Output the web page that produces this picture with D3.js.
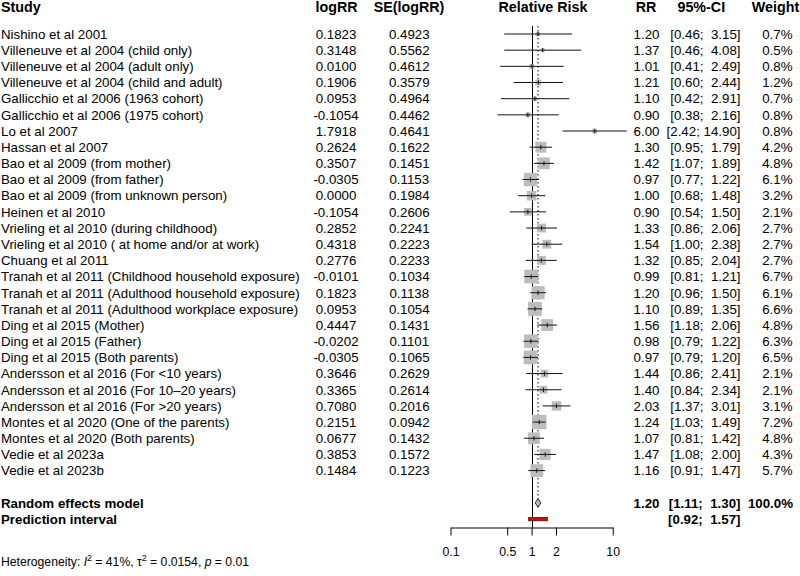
<!DOCTYPE html>
<html>
<head>
<meta charset="utf-8">
<script src="https://cdn.jsdelivr.net/npm/d3@7"></script>
<style>
  html, body { margin: 0; padding: 0; background: #fff; }
  svg { display: block; }
  text { font-family: "Liberation Sans", Arial, sans-serif; fill: #000; white-space: pre; }
</style>
</head>
<body>
<svg id="chart" width="800" height="576"></svg>
<script>
// ---------------- data ----------------
const studies = [
  "Nishino et al 2001",
  "Villeneuve et al 2004 (child only)",
  "Villeneuve et al 2004 (adult only)",
  "Villeneuve et al 2004 (child and adult)",
  "Gallicchio et al 2006 (1963 cohort)",
  "Gallicchio et al 2006 (1975 cohort)",
  "Lo et al 2007",
  "Hassan et al 2007",
  "Bao et al 2009 (from mother)",
  "Bao et al 2009 (from father)",
  "Bao et al 2009 (from unknown person)",
  "Heinen et al 2010",
  "Vrieling et al 2010 (during childhood)",
  "Vrieling et al 2010 ( at home and/or at work)",
  "Chuang et al 2011",
  "Tranah et al 2011 (Childhood household exposure)",
  "Tranah et al 2011 (Adulthood household exposure)",
  "Tranah et al 2011 (Adulthood workplace exposure)",
  "Ding et al 2015 (Mother)",
  "Ding et al 2015 (Father)",
  "Ding et al 2015 (Both parents)",
  "Andersson et al 2016 (For <10 years)",
  "Andersson et al 2016 (For 10–20 years)",
  "Andersson et al 2016 (For >20 years)",
  "Montes et al 2020 (One of the parents)",
  "Montes et al 2020 (Both parents)",
  "Vedie et al 2023a",
  "Vedie et al 2023b"
];
const logRR = ["0.1823","0.3148","0.0100","0.1906","0.0953","-0.1054","1.7918","0.2624","0.3507","-0.0305",
  "0.0000","-0.1054","0.2852","0.4318","0.2776","-0.0101","0.1823","0.0953","0.4447","-0.0202",
  "-0.0305","0.3646","0.3365","0.7080","0.2151","0.0677","0.3853","0.1484"];
const seLogRR = ["0.4923","0.5562","0.4612","0.3579","0.4964","0.4462","0.4641","0.1622","0.1451","0.1153",
  "0.1984","0.2606","0.2241","0.2223","0.2233","0.1034","0.1138","0.1054","0.1431","0.1101",
  "0.1065","0.2629","0.2614","0.2016","0.0942","0.1432","0.1572","0.1223"];
const rr     = [1.20,1.37,1.01,1.21,1.10,0.90,6.00,1.30,1.42,0.97,1.00,0.90,1.33,1.54,1.32,0.99,1.20,1.10,1.56,0.98,0.97,1.44,1.40,2.03,1.24,1.07,1.47,1.16];
const ciLow  = [0.46,0.46,0.41,0.60,0.42,0.38,2.42,0.95,1.07,0.77,0.68,0.54,0.86,1.00,0.85,0.81,0.96,0.89,1.18,0.79,0.79,0.86,0.84,1.37,1.03,0.81,1.08,0.91];
const ciHigh = [3.15,4.08,2.49,2.44,2.91,2.16,14.90,1.79,1.89,1.22,1.48,1.50,2.06,2.38,2.04,1.21,1.50,1.35,2.06,1.22,1.20,2.41,2.34,3.01,1.49,1.42,2.00,1.47];
const weight = [0.7,0.5,0.8,1.2,0.7,0.8,0.8,4.2,4.8,6.1,3.2,2.1,2.7,2.7,2.7,6.7,6.1,6.6,4.8,6.3,6.5,2.1,2.1,3.1,7.2,4.8,4.3,5.7];

const pooled = { rr: 1.20, low: 1.11, high: 1.30, weight: "100.0%" };
const predInt = { low: 0.92, high: 1.57 };
const tickValues = [0.1, 0.5, 1, 2, 10];
const tickLabels = ["0.1", "0.5", "1", "2", "10"];
const headers = ["Study", "logRR", "SE(logRR)", "Relative Risk", "RR", "95%-CI", "Weight"];

// ---------------- layout ----------------
const svg = d3.select("#chart");
const FS = 13.3, FSH = 14.3;
const rowY = d3.scaleLinear().domain([0, 1]).range([34, 34 + 16.17]);
const x = d3.scaleLog().domain([0.1, 10]).range([450.5, 612.7]);
const box = d3.scaleSqrt().domain([0, 7.2]).range([0, 14.4]);
const fmt2 = d3.format(".2f");
const fmtCI = (lo, hi) => {
  const a = fmt2(lo), b = fmt2(hi);
  return "[" + a + ";" + " ".repeat(Math.max(1, 6 - b.length)) + b + "]";
};

const col = { study: 1, logRR: 336, se: 409.3, rrR: 659.5, ciR: 740.5, wR: 792.5 };
const hdr = { study: 1, logRR: 336.5, se: 409, forest: 543, rr: 646, ci: 701.3, w: 775.5 };

// headers
const hY = 12;
const hg = svg.append("g").attr("font-weight", "bold").attr("font-size", FSH);
hg.append("text").attr("x", hdr.study).attr("y", hY).text(headers[0]);
hg.append("text").attr("x", hdr.logRR).attr("y", hY).attr("text-anchor", "middle").text(headers[1]);
hg.append("text").attr("x", hdr.se).attr("y", hY).attr("text-anchor", "middle").text(headers[2]);
hg.append("text").attr("x", hdr.forest).attr("y", hY).attr("text-anchor", "middle").text(headers[3]);
hg.append("text").attr("x", hdr.rr).attr("y", hY).attr("text-anchor", "middle").text(headers[4]);
hg.append("text").attr("x", hdr.ci).attr("y", hY).attr("text-anchor", "middle").text(headers[5]);
hg.append("text").attr("x", hdr.w).attr("y", hY).attr("text-anchor", "middle").text(headers[6]);

// study rows text
const rows = svg.append("g").attr("font-size", FS);
const idx = d3.range(studies.length);
const row = rows.selectAll("g.row").data(idx).join("g").attr("class", "row")
  .attr("transform", i => `translate(0,${rowY(i)})`);
row.append("text").attr("x", col.study).attr("dy", "0.36em").text(i => studies[i]);
row.append("text").attr("x", col.logRR).attr("dy", "0.36em").attr("text-anchor", "middle").text(i => logRR[i]);
row.append("text").attr("x", col.se).attr("dy", "0.36em").attr("text-anchor", "middle").text(i => seLogRR[i]);
row.append("text").attr("x", col.rrR).attr("dy", "0.36em").attr("text-anchor", "end").text(i => fmt2(rr[i]));
row.append("text").attr("x", col.ciR).attr("dy", "0.36em").attr("text-anchor", "end").text(i => fmtCI(ciLow[i], ciHigh[i]));
row.append("text").attr("x", col.wR).attr("dy", "0.36em").attr("text-anchor", "end").text(i => weight[i].toFixed(1) + "%");

// summary rows
const reY = rowY(29), piY = rowY(30);
const sg = svg.append("g").attr("font-size", FS).attr("font-weight", "bold");
sg.append("text").attr("x", col.study).attr("y", reY).attr("dy", "0.36em").text("Random effects model");
sg.append("text").attr("x", col.study).attr("y", piY).attr("dy", "0.36em").text("Prediction interval");
sg.append("text").attr("x", col.rrR).attr("y", reY).attr("dy", "0.36em").attr("text-anchor", "end").text(fmt2(pooled.rr));
sg.append("text").attr("x", col.ciR).attr("y", reY).attr("dy", "0.36em").attr("text-anchor", "end").text(fmtCI(pooled.low, pooled.high));
sg.append("text").attr("x", col.wR + 0.5).attr("y", reY).attr("dy", "0.36em").attr("text-anchor", "end").text(pooled.weight);
sg.append("text").attr("x", col.ciR).attr("y", piY).attr("dy", "0.36em").attr("text-anchor", "end").text(fmtCI(predInt.low, predInt.high));

// forest plot
const fg = svg.append("g");
const topY = 26, axisY = 527.5;
// reference line at 1
fg.append("line").attr("x1", Math.round(x(1)) + 0.5).attr("x2", Math.round(x(1)) + 0.5)
  .attr("y1", topY).attr("y2", axisY).attr("stroke", "#000").attr("stroke-width", 1);
// dotted pooled line
fg.append("line").attr("x1", x(pooled.rr)).attr("x2", x(pooled.rr))
  .attr("y1", topY).attr("y2", reY - 4.5).attr("stroke", "#000").attr("stroke-width", 1)
  .attr("stroke-dasharray", "1.5,2.5");

// squares
fg.selectAll("rect.sq").data(idx).join("rect").attr("class", "sq")
  .attr("x", i => x(rr[i]) - box(weight[i]) / 2)
  .attr("y", i => rowY(i) - box(weight[i]) / 2)
  .attr("width", i => box(weight[i])).attr("height", i => box(weight[i]))
  .attr("fill", "#bdbdbd");
// CI lines
fg.selectAll("line.ci").data(idx).join("line").attr("class", "ci")
  .attr("x1", i => x(ciLow[i])).attr("x2", i => x(ciHigh[i]))
  .attr("y1", i => rowY(i)).attr("y2", i => rowY(i))
  .attr("stroke", "#111").attr("stroke-width", 1);
// estimate ticks
fg.selectAll("line.est").data(idx).join("line").attr("class", "est")
  .attr("x1", i => x(rr[i])).attr("x2", i => x(rr[i]))
  .attr("y1", i => rowY(i) - 2.2).attr("y2", i => rowY(i) + 2.2)
  .attr("stroke", "#111").attr("stroke-width", 1);

// diamond
const dh = 4.5;
fg.append("path")
  .attr("d", `M${x(pooled.low)},${reY} L${x(pooled.rr)},${reY - dh} L${x(pooled.high)},${reY} L${x(pooled.rr)},${reY + dh} Z`)
  .attr("fill", "#bdbdbd").attr("stroke", "#000").attr("stroke-width", 0.8);

// prediction interval
fg.append("rect").attr("x", x(predInt.low)).attr("y", piY - 1.7)
  .attr("width", x(predInt.high) - x(predInt.low)).attr("height", 3.4)
  .attr("fill", "#e00000").attr("stroke", "#222").attr("stroke-width", 0.8);

// axis
const axis = d3.axisBottom(x).tickValues(tickValues)
  .tickFormat((d, i) => tickLabels[i]).tickSize(8).tickSizeOuter(0).tickPadding(12);
const ag = svg.append("g").attr("transform", `translate(0,${axisY})`).call(axis);
ag.selectAll("text").attr("font-size", 12.3).attr("font-family", "Liberation Sans, Arial, sans-serif");
ag.select(".domain").attr("stroke", "#000");
ag.selectAll(".tick line").attr("stroke", "#000");

// heterogeneity
const ht = svg.append("text").attr("x", 1).attr("y", 565.5).attr("font-size", 12.2);
ht.append("tspan").text("Heterogeneity: ");
ht.append("tspan").attr("font-style", "italic").text("I");
ht.append("tspan").attr("dy", -5).attr("font-size", 8.8).text("2");
ht.append("tspan").attr("dy", 5).text(" = 41%, τ");
ht.append("tspan").attr("dy", -5).attr("font-size", 8.8).text("2");
ht.append("tspan").attr("dy", 5).text(" = 0.0154, ");
ht.append("tspan").attr("font-style", "italic").text("p");
ht.append("tspan").text(" = 0.01");
</script>
</body>
</html>
